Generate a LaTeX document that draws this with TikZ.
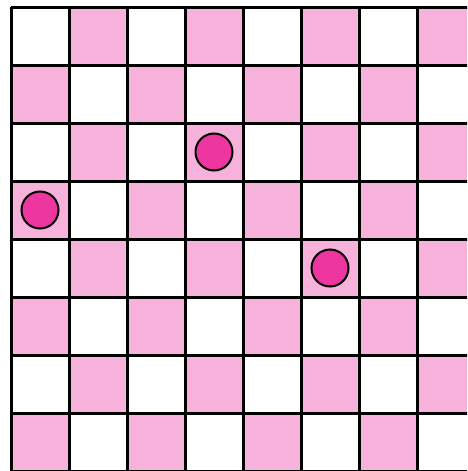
\documentclass[tikz,border=0pt]{standalone}
\definecolor{cellpink}{RGB}{247,178,219}
\definecolor{tokenpink}{RGB}{238,54,160}
\tikzset{
  token/.style={circle, draw=black, line width=2pt, fill=tokenpink, minimum size=37pt, inner sep=0pt},
  gridline/.style={line width=3pt, black}
}
\begin{document}
\begin{tikzpicture}[x=1pt,y=-1pt]
\useasboundingbox (0,0) rectangle (467,471);
\clip (0,0) rectangle (467,471);
\fill[white] (0,0) rectangle (467,471);
\foreach \r in {0,...,7}{
  \foreach \c in {0,...,7}{
    \pgfmathtruncatemacro{\p}{mod(\r+\c,2)}
    \ifnum\p=1
      \fill[cellpink] ({11+58*\c},{7+58*\r}) rectangle ++(58,58);
    \fi
  }
}
\foreach \i in {0,...,8}{
  \draw[gridline] ({11+58*\i},7) -- ({11+58*\i},471);
  \draw[gridline] (11,{7+58*\i}) -- (475,{7+58*\i});
}
\node[token] (t1) at (214,152) {};
\node[token] (t2) at (40,210) {};
\node[token] (t3) at (330,268) {};
\end{tikzpicture}
\end{document}
